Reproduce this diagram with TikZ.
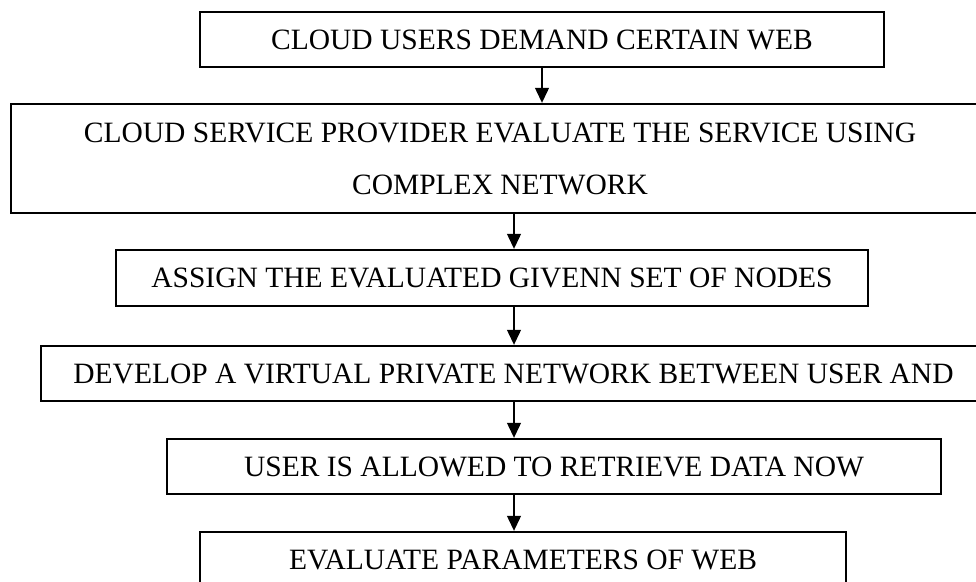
\documentclass[tikz,border=0pt]{standalone}
\usepackage{fontspec}
\setmainfont{Liberation Serif}
\usetikzlibrary{arrows.meta,calc}

\tikzset{
  stepbox/.style={draw=black, line width=1.2pt, inner sep=0pt, align=center,
    font=\fontsize{29.5}{52}\selectfont},
  arr/.style={line width=1.2pt, -{Triangle[length=15pt,width=14pt]}, shorten >=0.6pt}
}

\begin{document}
\begin{tikzpicture}[x=1pt,y=-1pt]
  \useasboundingbox (0,0) rectangle (976,581);
  \clip (0,0) rectangle (976,581);

  % flow steps (centre, width, height)
  \node[stepbox, minimum width=684pt, minimum height=55pt] (b1) at (542,39.5)
    {CLOUD USERS DEMAND CERTAIN WEB};
  \node[stepbox, minimum width=978pt, minimum height=109pt] (b2) at (500,158.5)
    {CLOUD SERVICE PROVIDER EVALUATE THE SERVICE USING\\COMPLEX NETWORK};
  \node[stepbox, minimum width=752pt, minimum height=56pt] (b3) at (492,278)
    {ASSIGN THE EVALUATED GIVENN SET OF NODES};
  \node[stepbox, minimum width=945pt, minimum height=55pt] (b4) at (513.5,373.5)
    {DEVELOP A VIRTUAL PRIVATE NETWORK BETWEEN USER AND};
  \node[stepbox, minimum width=774pt, minimum height=55pt] (b5) at (554,466.5)
    {USER IS ALLOWED TO RETRIEVE DATA NOW};
  \node[stepbox, minimum width=646pt, minimum height=55pt] (b6) at (523,559.5)
    {EVALUATE PARAMETERS OF WEB};

  % column of the lower arrows
  \coordinate (ax) at (514,0);

  % connectors
  \draw[arr] (b1.south) -- (b1.south |- b2.north);
  \draw[arr] (b2.south -| ax) -- (b3.north -| ax);
  \draw[arr] (b3.south -| ax) -- (b4.north -| ax);
  \draw[arr] (b4.south -| ax) -- (b5.north -| ax);
  \draw[arr] (b5.south -| ax) -- (b6.north -| ax);
\end{tikzpicture}
\end{document}
